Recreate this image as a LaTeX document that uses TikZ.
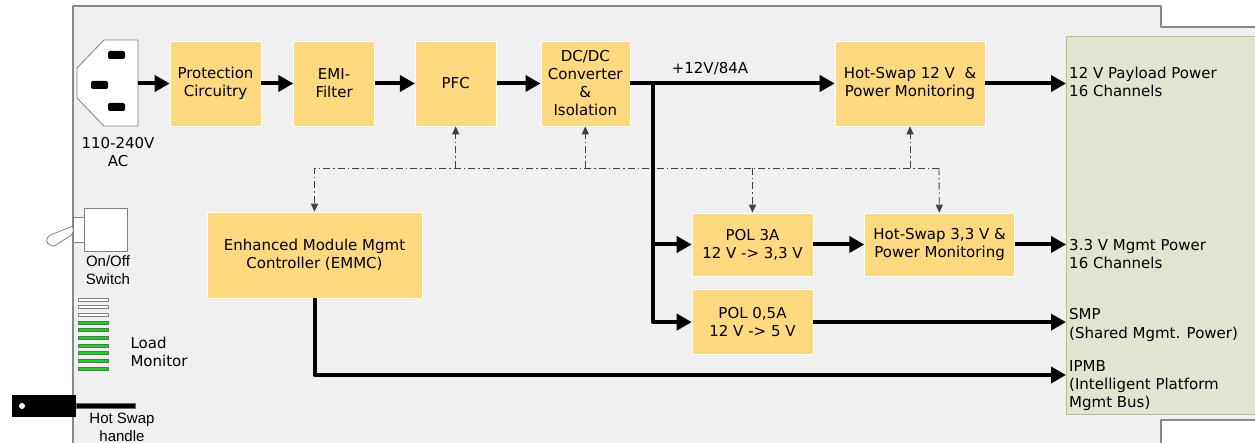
\documentclass[tikz,border=0pt]{standalone}
\usepackage{fontspec}
\setmainfont{DejaVu Sans}
\newfontfamily\arialfont{Liberation Sans}
\usepackage{tikz}
\usetikzlibrary{positioning, arrows.meta}

\definecolor{blockfill}{RGB}{255,217,128}
\definecolor{boardfill}{RGB}{240,240,240}
\definecolor{boardline}{RGB}{136,136,136}
\definecolor{panelfill}{RGB}{225,228,208}
\definecolor{panelline}{RGB}{184,192,128}
\definecolor{ledgreen}{RGB}{0,230,0}

\begin{document}
\begin{tikzpicture}[x=1pt, y=-1pt, font=\fontsize{15}{18}\selectfont, line join=round,
        block/.style={fill=blockfill, draw=white, line width=0.6pt, align=center, inner sep=0pt},
        power/.style={line width=4pt, -{Triangle[length=15pt, width=16pt]}},
        ctrl/.style={line width=0.9pt, draw=black!75, dash pattern=on 7pt off 3pt on 1.5pt off 3pt, -{Triangle[length=8pt, width=7pt]}},
        outline/.style={draw=black!50, fill=white, line width=0.8pt},
        label/.style={anchor=base west, align=left, inner sep=0pt}]
    \useasboundingbox (0,0) rectangle (1255,443);

    % board and backplane
    \fill[boardfill] (73,443) -- (73,6) -- (1161,6) -- (1161,27) -- (1255,27) -- (1255,420) -- (1161,420) -- (1161,443) -- cycle;
    \draw[boardline, line width=1.5pt] (73,443) -- (73,6) -- (1161,6) -- (1161,27) -- (1255,27);
    \draw[boardline, line width=1.5pt] (1255,420) -- (1161,420) -- (1161,443);
    \node[draw=panelline, fill=panelfill, line width=1pt, minimum width=200pt, minimum height=378pt, anchor=north west] (panel) at (1066,36) {};

    % mains plug
    \draw[outline] (138,40) -- (104,40) -- (77,68) -- (77,98) -- (104,126) -- (138,126) -- cycle;
    \fill[rounded corners=2pt] (108,51) rectangle (125,59);
    \fill[rounded corners=2pt] (91,81) rectangle (108,89);
    \fill[rounded corners=2pt] (108,103) rectangle (125,111);
    \coordinate (plug) at (138,83.5);
    \node[align=center] (ac) at (118,152) {110-240V\\AC};

    % switch, leds, handle
    \draw[outline] (84,208) rectangle (127,251);
    \draw[outline] (73,217) rectangle (84,242);
    \draw[outline, rounded corners=2pt] (73,226) -- (48,236) -- (46,242) -- (53,247) -- (73,234) -- cycle;
    \node[align=center, font=\arialfont\fontsize{15}{18}\selectfont] (switch) at (108,270) {On/Off\\Switch};
    \foreach \i in {0,1,2}
        \draw[black!50, fill=white, line width=0.6pt] (78,{298+7.67*\i}) rectangle (108,{301+7.67*\i});
    \foreach \i in {3,...,9}
        \draw[black!60, fill=ledgreen, line width=0.6pt] (78,{298+7.67*\i}) rectangle (108,{301+7.67*\i});
    \node[anchor=west, align=left] (load) at (127,352) {Load\\Monitor};
    \fill (12,395) rectangle (76,417);
    \fill[white] (22,406) circle (3);
    \draw[fill=black, draw=black!60, line width=0.6pt] (76,403) rectangle (135,408);
    \node[align=center, font=\arialfont\fontsize{15}{18}\selectfont] (handle) at (122,427) {Hot Swap\\handle};

    % blocks
    \node[block, minimum width=91pt, minimum height=85pt] (prot) at (215.5,83.5) {Protection\\Circuitry};
    \node[block, minimum width=81pt, minimum height=85pt, right=32pt of prot] (emi) {EMI-\\Filter};
    \node[block, minimum width=81pt, minimum height=85pt, right=40pt of emi] (pfc) {PFC};
    \node[block, minimum width=89pt, minimum height=85pt, right=44pt of pfc] (dcdc) {DC/DC\\Converter\\\&\\Isolation};
    \node[block, minimum width=150pt, minimum height=85pt] (hsa) at (910,83.5) {Hot-Swap 12 V\ \ \&\\Power Monitoring};
    \node[block, minimum width=121pt, minimum height=63pt] (pola) at (752.5,244.5) {POL 3A\\12 V -> 3,3 V};
    \node[block, minimum width=150pt, minimum height=63pt, right=51pt of pola] (hsb) {Hot-Swap 3,3 V \&\\Power Monitoring};
    \node[block, minimum width=121pt, minimum height=65pt, below=13pt of pola] (polb) {POL 0,5A\\12 V -> 5 V};
    \node[block, minimum width=215pt, minimum height=86pt] (emmc) at (314.5,255) {Enhanced Module Mgmt\\Controller (EMMC)};

    % outputs (base = last line)
    \node[label] (payload) at (1069,97) {12 V Payload Power\\16 Channels};
    \node[label] (mgmt) at (1069,269) {3.3 V Mgmt Power\\16 Channels};
    \node[label] (smp) at (1069,338) {SMP\\(Shared Mgmt. Power)};
    \node[label] (ipmb) at (1069,407) {IPMB\\(Intelligent Platform\\Mgmt Bus)};

    % management lines
    \coordinate (ctll) at (314.5,168);
    \coordinate (ctlr) at (939,168);
    \draw[ctrl] (ctlr) -- (ctll) -- (emmc);
    \draw[ctrl] (ctlr) -- (hsb);
    \draw[ctrl] (pola |- ctll) -- (pola);
    \draw[ctrl] (pfc |- ctll) -- (pfc);
    \draw[ctrl] (dcdc |- ctll) -- (dcdc);
    \draw[ctrl] (hsa |- ctll) -- (hsa);

    % power path
    \draw[power] (plug) -- (prot);
    \draw[power] (prot) -- (emi);
    \draw[power] (emi) -- (pfc);
    \draw[power] (pfc) -- (dcdc);
    \draw[power] (dcdc) -- (hsa);
    \node[anchor=base] (rail) at (710,74) {+12V/84A};
    \coordinate (tap) at (653,83.5);
    \draw[power] (tap) |- (polb);
    \draw[power] (tap |- pola) -- (pola);
    \draw[power] (pola) -- (hsb);
    \draw[power] (hsa) -- (hsa -| panel.west);
    \draw[power] (hsb) -- (hsb -| panel.west);
    \draw[power] (polb) -- (polb -| panel.west);
    \coordinate (ipmbin) at (1066,375);
    \draw[power] (emmc) |- (ipmbin);
\end{tikzpicture}
\end{document}
